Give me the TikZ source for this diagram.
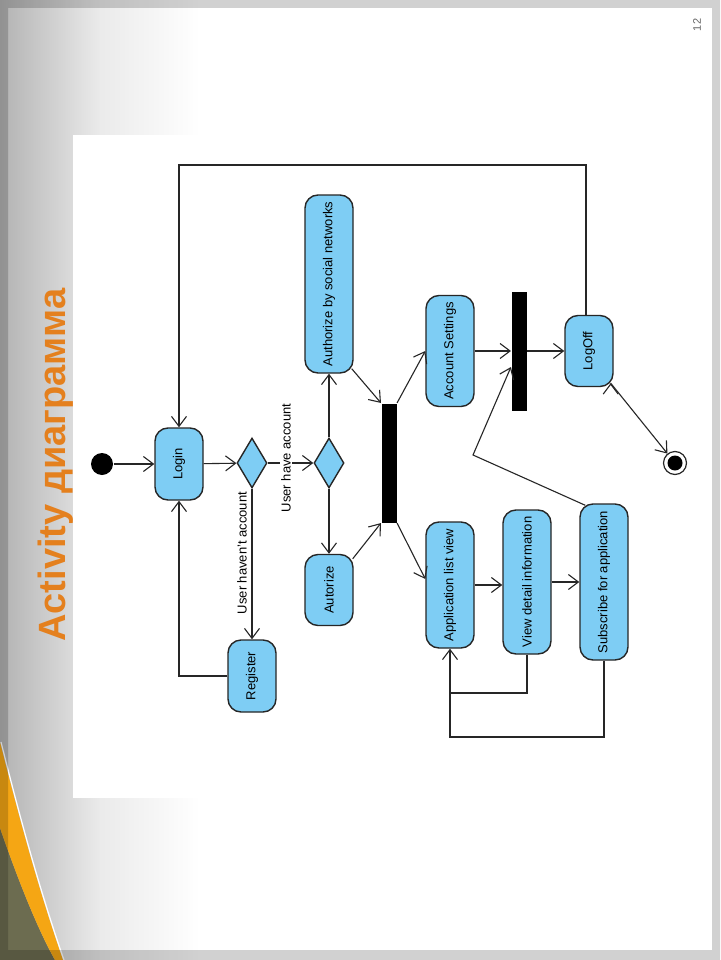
\documentclass[tikz,border=0pt]{standalone}
\usepackage{fontspec}
\setmainfont{Liberation Sans}
\usepackage{graphicx}
\usepackage{tikz}
\usetikzlibrary{calc, arrows.meta, shapes.geometric}

\definecolor{actblue}{RGB}{126,205,244}
\definecolor{titleorange}{RGB}{228,128,30}
\definecolor{slideolive}{RGB}{108,108,80}
\definecolor{swoosh}{RGB}{245,166,20}

\newcommand{\vtext}[1]{\rotatebox{90}{#1}}

\begin{document}
\begin{tikzpicture}[x=1pt, y=-1pt, >={Straight Barb[length=10pt, width=15pt]}, line width=1.1pt]
		\tikzstyle{act} = [draw=black!85, fill=actblue, rounded corners=13, line width=1.4pt, minimum width=48, inner sep=0, font=\fontsize{13}{15}\selectfont]
		\tikzstyle{choice} = [draw=black!85, fill=actblue, diamond, minimum width=30, minimum height=50, inner sep=0, line width=1.4pt]
		\tikzstyle{bar} = [fill=black, minimum width=15, minimum height=119, inner sep=0]
		\tikzstyle{guard} = [inner sep=1.5, font=\fontsize{13}{15}\selectfont]
		\tikzstyle{flow} = [draw=black!85]
		
		\useasboundingbox (0,0) rectangle (720,960);
		
		% slide background
		\fill[white] (0,0) rectangle (720,960);
		\shade[left color=black!30, right color=white, middle color=black!8] (0,0) rectangle (200,960);
		\fill[white] (73,135) rectangle (712,798);
		\fill[slideolive] (0,828) .. controls (18,880) and (38,930) .. (55,960) -- (0,960) -- cycle;
		\fill[swoosh] (0,742) .. controls (22,830) and (42,900) .. (63,960) -- (55,960) .. controls (38,930) and (18,880) .. (0,828) -- cycle;
		\draw[white, line width=1.2pt] (1,742) .. controls (23,830) and (43,900) .. (64,960);
		\fill[black, opacity=0.18, even odd rule] (0,0) rectangle (720,960) (8,8) rectangle (712,950);
		
		\node[font=\fontsize{38}{40}\selectfont\bfseries, text=titleorange, inner sep=0] at (56,465) (title) {\vtext{Activity диаграмма}};
		\node[font=\fontsize{11}{12}\selectfont, text=black!60, inner sep=0] at (697,25) (pagenum) {\vtext{12}};
		
		% activities
		\node[circle, fill=black, minimum size=22, inner sep=0] at (102,464) (start) {};
		\node[act, minimum height=72] 	at (179,464) 	(login) 	{\vtext{Login}};
		\node[choice] 					at (252,463) 	(check) 	{};
		\node[act, minimum height=72] 	at (252,676) 	(register) 	{\vtext{Register}};
		\node[choice] 					at (329,463) 	(way) 		{};
		\node[act, minimum height=178] 	at (329,284) 	(social) 	{\vtext{Authorize by social networks}};
		\node[act, minimum height=71] 	at (329,590) 	(autorize) 	{\vtext{Autorize}};
		\node[bar] 						at (389,463) 	(fork) 		{};
		\node[act, minimum height=111] 	at (450,351) 	(settings) 	{\vtext{Account Settings}};
		\node[act, minimum height=126] 	at (450,585) 	(applist) 	{\vtext{Application list view}};
		\node[act, minimum height=144] 	at (527,582) 	(details) 	{\vtext{View detail information}};
		\node[act, minimum height=156] 	at (604,582) 	(subscribe) {\vtext{Subscribe for application}};
		\node[bar] 						at (519,351) 	(join) 		{};
		\node[act, minimum height=71] 	at (589,351) 	(logoff) 	{\vtext{LogOff}};
		\node[circle, draw=black!85, fill=white, minimum size=23, inner sep=0, line width=1.2pt] at (675,463) (stop) {};
		\fill (stop) circle (7.5);
		
		\coordinate (topleft) 	at (179,165);
		\coordinate (viewbend) 	at (450,693);
		\coordinate (subbend) 	at (450,737);
		\coordinate (subbreak) 	at (473,455);
		
		\path[->, flow]
		(start)		edge	(login)
		(login)		edge	(check)
		(check)		edge	(register)
		(way)		edge	(social)
		(way)		edge	(autorize)
		($(social.south east)+(-2,-5)$)		edge	(fork.north west)
		($(autorize.north east)+(-1,5)$)	edge	(fork.south west)
		(fork.north east)	edge	(settings.west)
		(fork.south east)	edge	($(applist.west)+(0,-6)$)
		(applist.east)		edge	(applist.east -| details.west)
		(details.east)		edge	(details.east -| subscribe.west)
		(settings)	edge	(join)
		(join)		edge	(logoff)
		($(logoff.south east)+(-3,-4)$)	edge	(stop);
		
		\draw[->, flow] (check) -- (way);
		\draw[->, flow] (register.west) -| (login.south);
		\draw[->, flow] ($(logoff.north)+(-3,0)$) |- (topleft) -- (login.north);
		\draw[->, flow] (details.south) |- (viewbend) -- (applist.south);
		\draw[flow] (subscribe.south) |- (subbend) -- (viewbend);
		\draw[->, flow] ($(subscribe.north west)+(6,2)$) -- (subbreak) -- ($(join.west)+(0,16)$);
		
		\node[guard, fill=white] 	at (286,458) 	(haveacc) 	{\vtext{User have account}};
		\node[guard] 				at (242,553) 	(noacc) 	{\vtext{User haven't account}};
\end{tikzpicture}
\end{document}
